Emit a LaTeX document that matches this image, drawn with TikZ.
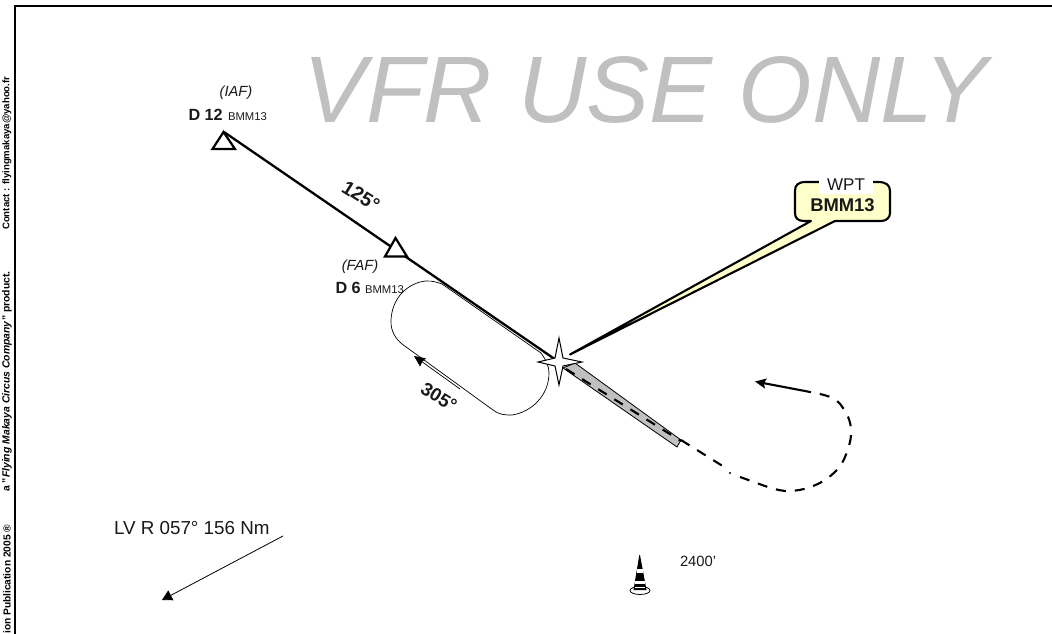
\documentclass[tikz,border=0pt]{standalone}
\usepackage{fontspec}
\setmainfont{Liberation Sans}
\usetikzlibrary{arrows.meta,calc}
\definecolor{rwy}{HTML}{C0C0C0}
\definecolor{wpt}{HTML}{FFFFCC}
\tikzset{
  txt/.style={inner sep=0pt,outer sep=0pt,text=black!90},
  sidetxt/.style={inner sep=0pt,rotate=90,font=\fontsize{#1}{10}\selectfont\bfseries,anchor=west},
  track/.style={line width=2.3pt,black},
  fixtri/.style={line width=2.2pt,fill=white,line join=miter},
  dashtrack/.style={line width=2.1pt,dash pattern=on 10pt off 9pt},
  ptarrow/.style={-{Stealth[length=11pt,width=10pt,inset=2pt]}}
}
\begin{document}
\begin{tikzpicture}[x=1pt,y=-1pt]
\useasboundingbox (0,0) rectangle (1052,634);
% frame
\coordinate (fb) at (14.5,634);
\coordinate (fr) at (1052,6);
\draw[line width=2pt] (fb) -- (14.5,5) (13.5,6) -- (fr);
% side texts
\node[sidetxt=9.6] (s1) at (7,230) {Contact : flyingmakaya@yahoo.fr};
\node[sidetxt=10.4] (s2) at (7,492) {a "\textit{Flying Makaya Circus Company}" product.};
\node[sidetxt=10.2] (s3) at (7,634) {ion Publication 2005 ®};
% watermark
\node[txt,text=rwy,anchor=base west,font=\fontsize{94.5}{96}\selectfont\itshape] (vfr) at (303,122) {VFR USE ONLY};
% coordinates
\coordinate (iaf) at (224,132);
\coordinate (star) at (559,362);
% racetrack
\draw[line width=0.7pt] (442,284) .. controls (434,281) and (427,280) .. (420,282)
  .. controls (400,288) and (391,305) .. (391,322)
  .. controls (391,331) and (395,338) .. (402,344)
  -- (493,410) .. controls (500,415) and (505,415) .. (512,415)
  .. controls (532,412) and (549,395) .. (549,373)
  .. controls (549,366) and (546,360) .. (541,353) -- cycle;
\draw[line width=0.7pt,{Stealth[length=11pt,width=10pt,inset=1pt]}-] (414,356) -- (460,389);
% inbound track
\draw[track] (iaf) -- (star);
% fixes
\draw[fixtri] (223.5,132) -- (235,149) -- (212.5,149) -- cycle;
\draw[fixtri] (395.5,238) -- (407,256.5) -- (385,256.5) -- cycle;
% labels
\node[txt,font=\fontsize{14.7}{15}\selectfont\itshape] (iaflab) at (236,93) {(IAF)};
\node[txt,anchor=base west,font=\fontsize{16.2}{17}\selectfont\bfseries] (d12) at (188.5,120.5) {D 12};
\node[txt,anchor=base west,font=\fontsize{11.3}{12}\selectfont] (b12) at (228,120.5) {BMM13};
\node[txt,font=\fontsize{14.7}{15}\selectfont\itshape] (faflab) at (360,267) {(FAF)};
\node[txt,anchor=base west,font=\fontsize{16.2}{17}\selectfont\bfseries] (d6) at (335.5,293.5) {D 6};
\node[txt,anchor=base west,font=\fontsize{11.3}{12}\selectfont] (b6) at (365,293.5) {BMM13};
\node[txt,rotate=-32,font=\fontsize{19.5}{20}\selectfont\bfseries] (a125) at (361,196) {125°};
\node[txt,rotate=-32,font=\fontsize{18.5}{20}\selectfont\bfseries] (a305) at (439,397) {305°};
% runway
\draw[fill=rwy,line width=0.8pt] (563,368) -- (575,363) -- (681,440) -- (677,447) -- cycle;
\draw[dashtrack] (566,369) -- (681,441);
% missed approach
\draw[dashtrack] (681,440) -- (729,470);
\fill (730,473) circle (1.1pt);
\draw[dashtrack] (740,477) .. controls (760,484) and (778,492) .. (790,491)
  .. controls (815,490) and (838,475) .. (845,457)
  .. controls (852,440) and (855,425) .. (843,408)
  .. controls (836,396) and (825,395) .. (805,391);
\draw[line width=2.1pt,ptarrow] (805,391) -- (755,381.5);
% callout
\coordinate (tip) at (570,354.5);
\draw[fill=wpt,line width=2.1pt,line join=round] (tip) -- (811,221) -- (804,221)
  .. controls (798,221) and (795,218) .. (795,213) -- (795,191)
  .. controls (795,185) and (798,182) .. (806,182) -- (878,182)
  .. controls (886,182) and (890,185) .. (890,191) -- (890,213)
  .. controls (890,218) and (886,221) .. (881,221) -- (835,221) -- cycle;
\fill[white] (819,178) rectangle (873,193.5);
\node[txt,font=\fontsize{17}{17}\selectfont] (wptl) at (846,184.5) {WPT};
\node[txt,font=\fontsize{18.4}{19}\selectfont\bfseries] (bmm) at (842.5,205.5) {BMM13};
% star
\draw[fill=white,line width=1pt,line join=miter] (559,338) -- (563,358) -- (582,362) -- (563,366)
  -- (559,385) -- (555,366) -- (538,362) -- (555,358) -- cycle;
% tower
\draw[line width=0.8pt] (640,590.5) ellipse (10pt and 4pt);
\fill (639.3,555) -- (640,555) -- (646.5,590) -- (633.5,590) -- cycle;
\fill[white] (636.5,569) rectangle (642.5,572.5);
\fill[white] (635,581) rectangle (644.5,584);
\draw[white,line width=0.7pt] (635,587.5) -- (645,587.5);
\node[txt,anchor=base west,font=\fontsize{14.8}{15}\selectfont] (h) at (680,566) {2400'};
% LV R
\node[txt,anchor=base west,font=\fontsize{18.8}{19}\selectfont] (lv) at (114,534) {LV R 057° 156 Nm};
\coordinate (la) at (283,536);
\coordinate (lb) at (162,600);
\draw[line width=0.8pt,-{Stealth[length=10pt,width=11pt,inset=0pt]}] (la) -- (lb);
\end{tikzpicture}
\end{document}
